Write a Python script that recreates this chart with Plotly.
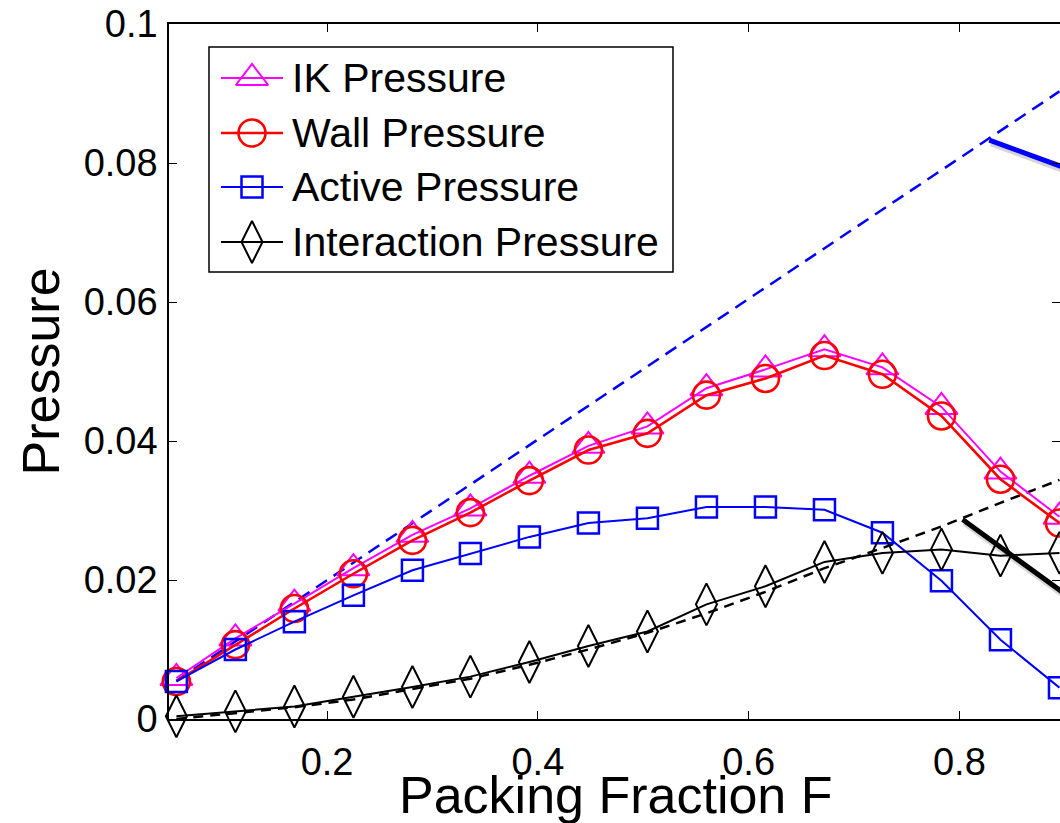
import plotly.graph_objects as go

# ---------------- data ----------------
phi = [0.057, 0.113, 0.169, 0.225, 0.281, 0.336, 0.392, 0.448, 0.504,
       0.560, 0.616, 0.672, 0.727, 0.783, 0.839, 0.895]
ik_pressure = [0.0059, 0.0116, 0.0166, 0.0217, 0.0265, 0.0303, 0.0350, 0.0393,
               0.0421, 0.0476, 0.0503, 0.0532, 0.0506, 0.0449, 0.0356, 0.0291]
wall_pressure = [0.0054, 0.0107, 0.0159, 0.0209, 0.0257, 0.0297, 0.0343, 0.0387,
                 0.0411, 0.0466, 0.0490, 0.0523, 0.0496, 0.0436, 0.0345, 0.0282]
active_pressure = [0.0054, 0.0100, 0.0140, 0.0178, 0.0214, 0.0238, 0.0262, 0.0282,
                   0.0289, 0.0305, 0.0305, 0.0301, 0.0268, 0.0199, 0.0114, 0.0045]
interaction_pressure = [0.0004, 0.0011, 0.0018, 0.0032, 0.0046, 0.0061, 0.0082, 0.0105,
                        0.0126, 0.0165, 0.0191, 0.0226, 0.0239, 0.0244, 0.0235, 0.0239]
interaction_theory = [0.0000, 0.0009, 0.0017, 0.0028, 0.0043, 0.0058, 0.0078, 0.0100,
                      0.0124, 0.0152, 0.0183, 0.0217, 0.0246, 0.0277, 0.0311, 0.0344]
active_ideal_phi = [0.057, 0.895]
active_ideal = [0.0055, 0.0903]

blue_pointer_phi = [0.8284, 0.92]
blue_pointer_p = [0.0833, 0.0782]
black_pointer_phi = [0.8031, 0.92]
black_pointer_p = [0.0287, 0.0158]

x_ticks = [0.2, 0.4, 0.6, 0.8]
x_tick_labels = ["0.2", "0.4", "0.6", "0.8"]
y_ticks = [0, 0.02, 0.04, 0.06, 0.08, 0.1]
y_tick_labels = ["0", "0.02", "0.04", "0.06", "0.08", "0.1"]
legend_labels = ["IK Pressure", "Wall Pressure", "Active Pressure", "Interaction Pressure"]
x_title = "Packing Fraction F"
y_title = "Pressure"

# ---------------- styling ----------------
FONT = "Liberation Sans, Arial, Helvetica, sans-serif"
W, H = 1060, 823
L, R, T, B = 169, 0, 24, 104
X_RANGE = [0.05, 0.8955]
Y_RANGE = [0, 0.1]
PLOT_W, PLOT_H = W - L - R, H - T - B

styles = [
    dict(color="#FF00FF", symbol="triangle-up-open", size=28, lw=2.0, mlw=2.0),
    dict(color="#FF0000", symbol="circle-open", size=27, lw=2.6, mlw=2.6),
    dict(color="#0000FF", symbol="square-open", size=21, lw=2.0, mlw=2.5),
    dict(color="#000000", symbol="diamond-tall-open", size=30, lw=2.0, mlw=2.0),
]
series = [ik_pressure, wall_pressure, active_pressure, interaction_pressure]

fig = go.Figure()

# pixel scale for small shadow offsets
px_x = PLOT_W / (X_RANGE[1] - X_RANGE[0])
px_y = PLOT_H / (Y_RANGE[1] - Y_RANGE[0])

# pointer lines (thick, with soft shadow)
for xs, ys, col in [(blue_pointer_phi, blue_pointer_p, "#0000FF"),
                    (black_pointer_phi, black_pointer_p, "#000000")]:
    fig.add_trace(go.Scatter(
        x=[v + 2 / px_x for v in xs], y=[v - 3 / px_y for v in ys], mode="lines",
        line=dict(color="rgba(0,0,0,0.16)", width=7), hoverinfo="skip"))
    fig.add_trace(go.Scatter(x=xs, y=ys, mode="lines",
                             line=dict(color=col, width=5), hoverinfo="skip"))

# dashed theory lines
fig.add_trace(go.Scatter(x=active_ideal_phi, y=active_ideal, mode="lines",
                         line=dict(color="#0000FF", width=2.5, dash="13px,8px")))
fig.add_trace(go.Scatter(x=phi, y=interaction_theory, mode="lines",
                         line=dict(color="#000000", width=2.5, dash="10px,7px")))

for vals, st, name in zip(series, styles, legend_labels):
    fig.add_trace(go.Scatter(
        x=phi, y=vals, mode="lines+markers", name=name, cliponaxis=False,
        line=dict(color=st["color"], width=st["lw"]),
        marker=dict(symbol=st["symbol"], size=st["size"], color=st["color"],
                    line=dict(color=st["color"], width=st["mlw"]))))

# ---------------- manual legend (pixel axes x3/y3) ----------------
LEG_BOX = (209, 47, 673, 272)
LEG_ROWS = [78, 133, 187, 242]
LEG_LINE = (221, 283)
LEG_TEXT_X = 290
for row, st, name in zip(LEG_ROWS, styles, legend_labels):
    fig.add_trace(go.Scatter(x=list(LEG_LINE), y=[row, row], mode="lines",
                             xaxis="x3", yaxis="y3",
                             line=dict(color=st["color"], width=st["lw"]), hoverinfo="skip"))
    fig.add_trace(go.Scatter(x=[(LEG_LINE[0] + LEG_LINE[1]) / 2], y=[row], mode="markers",
                             xaxis="x3", yaxis="y3", cliponaxis=False,
                             marker=dict(symbol=st["symbol"], size=st["size"], color=st["color"],
                                         line=dict(color=st["color"], width=st["mlw"])),
                             hoverinfo="skip"))
    fig.add_annotation(x=LEG_TEXT_X, y=row, xref="x3", yref="y3", text=name,
                       showarrow=False, xanchor="left", yanchor="middle",
                       font=dict(family=FONT, size=41, color="black"))

fig.add_shape(type="rect", xref="x3", yref="y3",
              x0=LEG_BOX[0], y0=LEG_BOX[1], x1=LEG_BOX[2], y1=LEG_BOX[3],
              line=dict(color="black", width=1.5), fillcolor="white", layer="below")

# x-axis title placed below the tick labels (paper coords from pixel position)
XT_PX, XT_PY = 616, 795
fig.add_annotation(x=(XT_PX - L) / PLOT_W, y=(H - B - XT_PY) / PLOT_H,
                   xref="paper", yref="paper", text=x_title,
                   showarrow=False, xanchor="center", yanchor="middle",
                   font=dict(family=FONT, size=52, color="black"))

# invisible anchor trace for the right tick axis
fig.add_trace(go.Scatter(x=[X_RANGE[0]], y=[Y_RANGE[0]], yaxis="y2", mode="markers",
                         marker=dict(size=1, opacity=0), hoverinfo="skip"))

axis_common = dict(showgrid=False, zeroline=False, ticks="inside", ticklen=8,
                   tickwidth=1, tickcolor="black", linecolor="black", linewidth=1.5,
                   tickfont=dict(family=FONT, size=38, color="black"))

fig.update_layout(
    width=W, height=H,
    margin=dict(l=L, r=R, t=T, b=B, autoexpand=False),
    paper_bgcolor="white", plot_bgcolor="white",
    showlegend=False,
    font=dict(family=FONT, color="black"),
    xaxis=dict(range=X_RANGE, tickvals=x_ticks, ticktext=x_tick_labels,
               showline=True, mirror="ticks", ticklabelstandoff=9,
               **axis_common),
    yaxis=dict(range=Y_RANGE, tickvals=y_ticks, ticktext=y_tick_labels,
               showline=True, mirror=False, ticklabelstandoff=2,
               title=dict(text=y_title, standoff=7,
                          font=dict(family=FONT, size=52, color="black")),
               **axis_common),
    yaxis2=dict(range=Y_RANGE, tickvals=y_ticks, overlaying="y", side="right",
                showline=False, showticklabels=False, showgrid=False, zeroline=False,
                ticks="inside", ticklen=8, tickwidth=1, tickcolor="black"),
    xaxis3=dict(range=[L, W - R], overlaying="x", anchor="y3", visible=False),
    yaxis3=dict(range=[H - B, T], overlaying="y", anchor="x3", visible=False),
)

fig.write_html("out.html")
